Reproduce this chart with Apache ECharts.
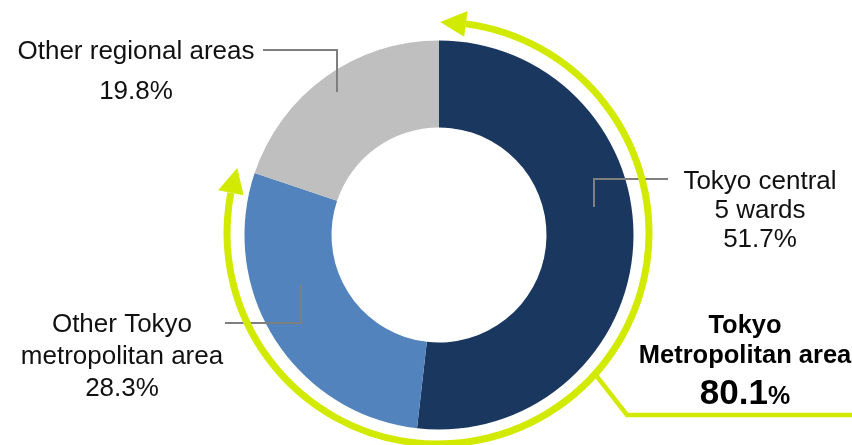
<!DOCTYPE html>
<html>
<head>
<meta charset="utf-8">
<script src="https://cdn.jsdelivr.net/npm/echarts@6/dist/echarts.min.js"></script>
<style>
    html, body { margin: 0; padding: 0; background: #fff; }
    #myChart { width: 852px; height: 445px; }
</style>
</head>
<body>
<div id="myChart"></div>
<script>
    // 数据
    const categories = ['Tokyo central\n5 wards', 'Other Tokyo\nmetropolitan area', 'Other regional areas'];
    const shares = [51.7, 28.3, 19.8];
    const metroName = ['Tokyo', 'Metropolitan area'];
    const metroTotal = 80.1;

    // 样式 / 位置
    const sliceColors = ['#1a3760', '#5283bd', '#bfbfbf'];
    const green = '#d2ea00';
    const donut = { cx: 439, cy: 235, r0: 107.5, r: 194.5 };
    const ring = { cx: 438, cy: 233, r: 211, w: 7 };
    const labelSpots = [
        { x: 760, y: 211, lh: 29, line: [[594, 207], [594, 179], [668, 179]] },
        { x: 122, y: 357, lh: 32, line: [[301, 285], [301, 323], [225, 323]] },
        { x: 136, y: 72, lh: 40, line: [[337, 92], [337, 50], [263, 50]] }
    ];

    const font = '"Liberation Sans", Arial, sans-serif';

    // 角度（从12点钟方向顺时针，度）转屏幕坐标
    function pt(r, deg) {
        let a = (deg - 90) * Math.PI / 180;
        return [ring.cx + r * Math.cos(a), ring.cy + r * Math.sin(a)];
    }

    function arrowHead(tipDeg, baseDeg, h) {
        return {
            type: 'polygon',
            z: 100,
            shape: { points: [pt(ring.r, tipDeg), pt(ring.r + h, baseDeg), pt(ring.r - h, baseDeg)] },
            style: { fill: green },
            silent: true
        };
    }

    let total = shares.reduce((a, b) => a + b, 0);
    let metroEnd = 360 * (shares[0] + shares[1]) / total;
    let tipStart = 0.6, tipEnd = metroEnd - 0.6, headLen = 7;

    let data = categories.map((name, i) => ({
        name: name,
        value: shares[i],
        itemStyle: { color: sliceColors[i] },
        label: {
            rich: {
                n: { fontSize: 26, fontFamily: font, color: '#111', lineHeight: labelSpots[i].lh },
                v: { fontSize: 26, fontFamily: font, color: '#111', lineHeight: labelSpots[i].lh }
            }
        }
    }));

    // 引导线
    let leaders = labelSpots.map(s => ({
        type: 'polyline',
        z: 100,
        shape: { points: s.line },
        style: { stroke: '#7f7f7f', lineWidth: 2, fill: 'none' },
        silent: true
    }));

    let option = {
        backgroundColor: '#fff',
        animation: false,
        series: [{
            type: 'pie',
            center: [donut.cx, donut.cy],
            radius: [donut.r0, donut.r],
            startAngle: 90,
            clockwise: true,
            avoidLabelOverlap: false,
            data: data,
            label: {
                show: true,
                position: 'outside',
                formatter: p => p.name.split('\n').map(s => '{n|' + s + '}').join('\n') + '\n{v|' + p.value + '%}'
            },
            labelLine: { show: false },
            labelLayout: function(params) {
                let s = labelSpots[params.dataIndex];
                return { x: s.x, y: s.y, align: 'center', verticalAlign: 'middle' };
            }
        }],
        graphic: leaders.concat([
            // 绿色弧线
            {
                type: 'arc',
                z: 100,
                shape: {
                    cx: ring.cx, cy: ring.cy, r: ring.r,
                    startAngle: (tipStart + headLen - 90) * Math.PI / 180,
                    endAngle: (tipEnd - headLen - 90) * Math.PI / 180,
                    clockwise: true
                },
                style: { stroke: green, lineWidth: ring.w, fill: 'none' },
                silent: true
            },
            arrowHead(tipStart, tipStart + headLen, 13),
            arrowHead(tipEnd, tipEnd - headLen, 13),
            // 连接线
            {
                type: 'polyline',
                z: 100,
                shape: { points: [pt(ring.r + 2, 132), [627, 415], [852, 415]] },
                style: { stroke: green, lineWidth: 4.5, fill: 'none' },
                silent: true
            },
            {
                type: 'text',
                z: 100,
                x: 745,
                y: 311,
                style: {
                    text: metroName.map(s => '{t|' + s + '}').join('\n') + '\n{v|' + metroTotal.toFixed(1) + '}{p|%}',
                    align: 'center',
                    verticalAlign: 'top',
                    rich: {
                        t: { fontSize: 25.5, fontWeight: 'bold', fontFamily: font, color: '#000', lineHeight: 30, align: 'center' },
                        v: { fontSize: 35, fontWeight: 'bold', fontFamily: font, color: '#2b4266', lineHeight: 46 },
                        p: { fontSize: 25, fontWeight: 'bold', fontFamily: font, color: '#2b4266', lineHeight: 46, padding: [7, 0, 0, 0] }
                    }
                },
                silent: true
            }
        ])
    };

    let myChart = echarts.init(document.getElementById('myChart'));
    myChart.setOption(option);
</script>
</body>
</html>
